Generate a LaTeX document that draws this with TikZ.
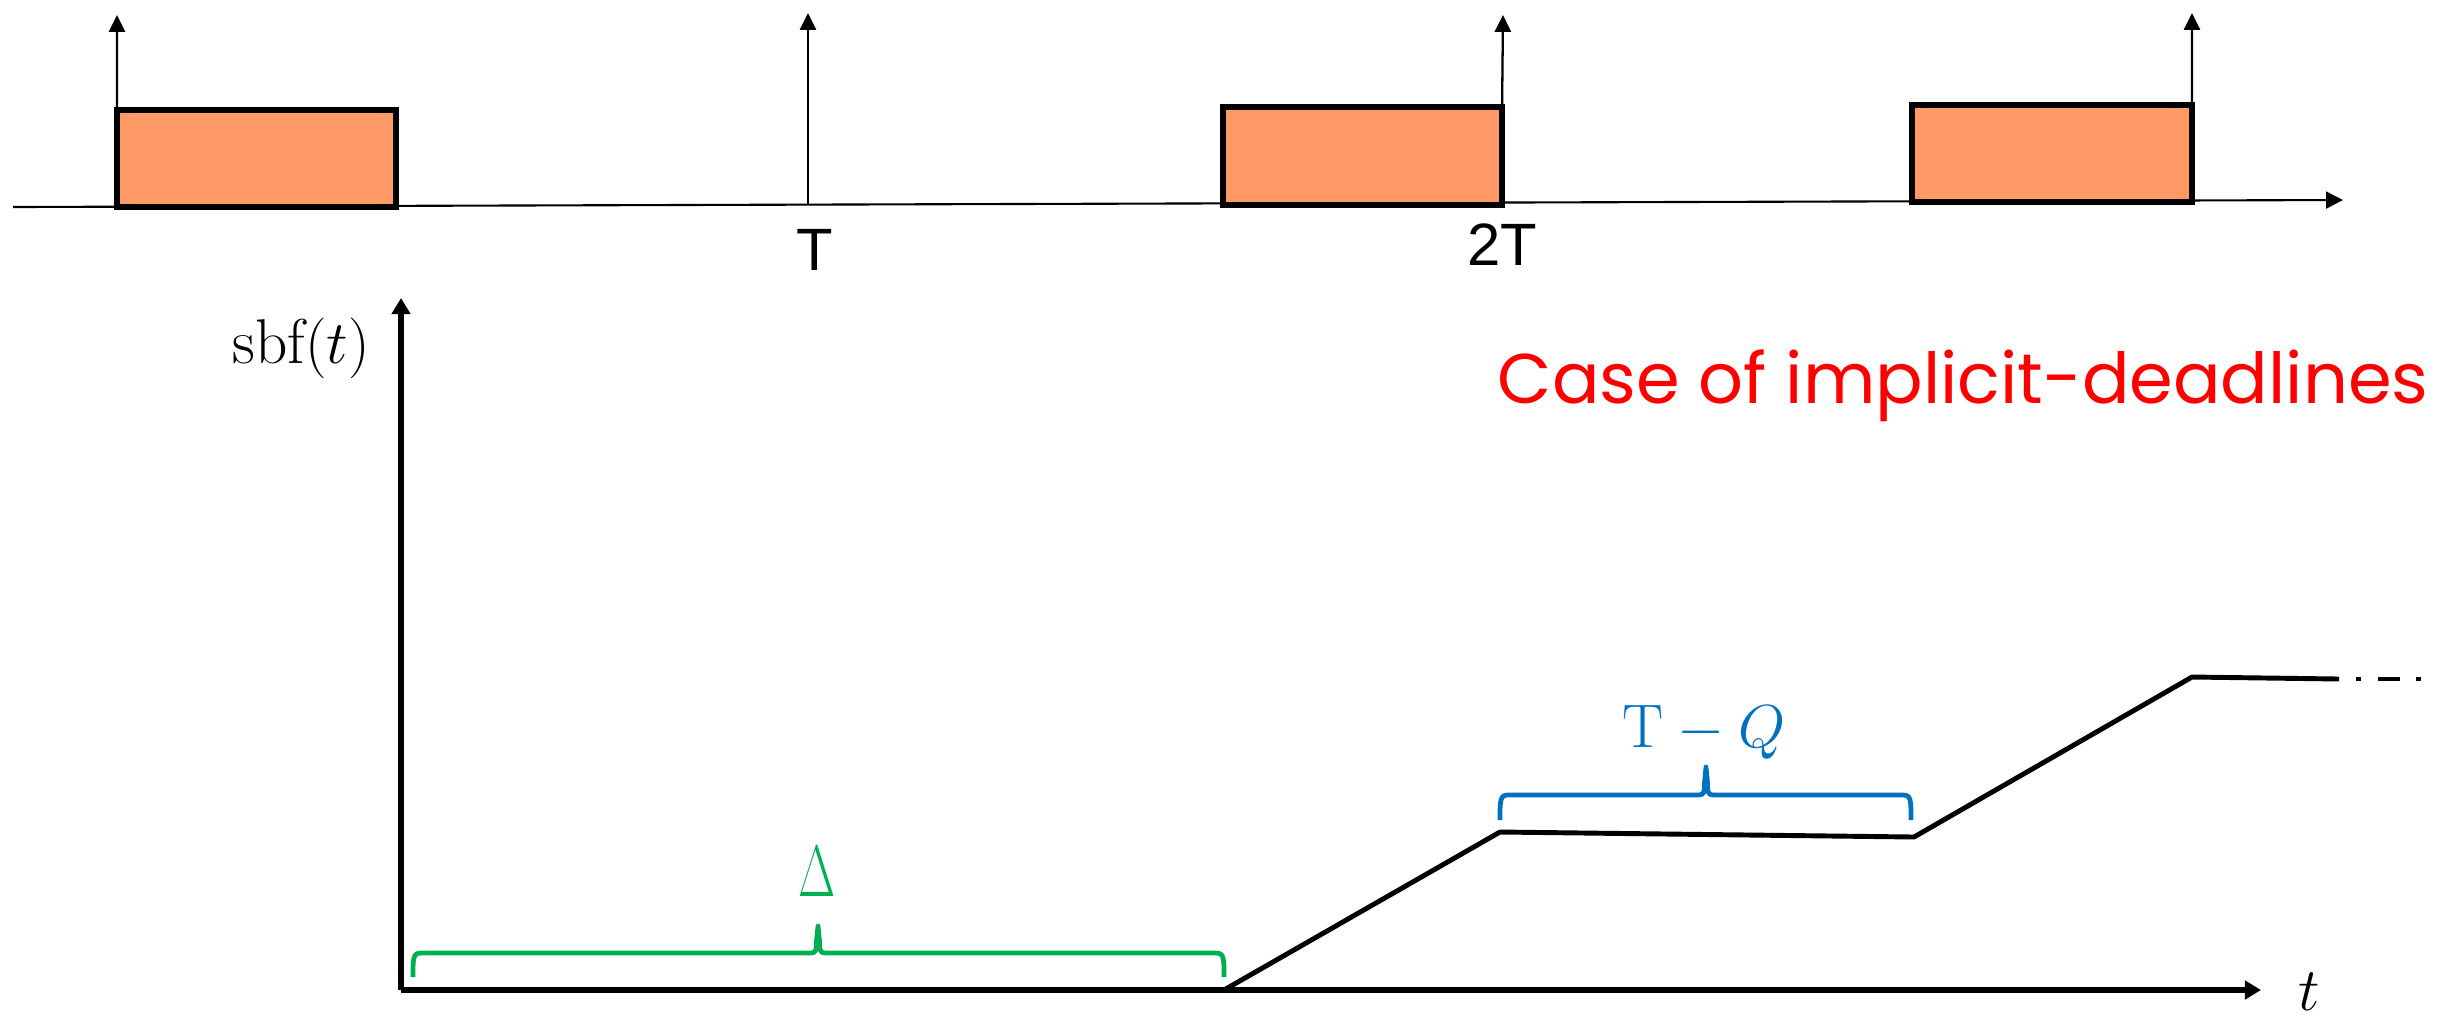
\documentclass[tikz,border=0pt]{standalone}
\usepackage{fontspec}
\usepackage{graphicx}
\usetikzlibrary{arrows.meta}
\newfontfamily\arialfont{Liberation Sans}
\newfontfamily\gothicfont{Poppins}
\definecolor{boxorange}{RGB}{255,153,102}
\definecolor{bracegreen}{RGB}{0,176,80}
\definecolor{braceblue}{RGB}{0,112,192}
\definecolor{casered}{RGB}{255,0,0}
\tikzset{
  timeaxis/.style={line width=0.6pt,-{Triangle[width=4.8pt,length=4.8pt]}},
  relarrow/.style={line width=0.65pt,-{Triangle[width=4.6pt,length=4.8pt]}},
  taskbox/.style={draw=black,line width=1.5pt,fill=boxorange,inner sep=0pt,outer sep=0pt},
  sbfaxis/.style={line width=1.5pt,-{Triangle[width=5.2pt,length=4.6pt]}},
  sbfcurve/.style={line width=1.4pt,line join=round},
  bracepath/.style={line width=1.35pt,line join=round},
  arlabel/.style={font=\arialfont\fontsize{17}{19}\selectfont,inner sep=0pt},
  mathlabel/.style={font=\fontsize{18}{20}\selectfont,inner sep=0pt}
}
\begin{document}
\begin{tikzpicture}[x=0.01cm,y=-0.01cm]
\useasboundingbox (0,0) rectangle (2457,1023);

% ---------- top timeline ----------
\coordinate (ax0) at (13,207);
\coordinate (axE) at (2343,200);
\draw[timeaxis] (ax0) -- (axE);

\node[taskbox,minimum width=2.79cm,minimum height=0.97cm] (box1) at (256.5,158.5) {};
\node[taskbox,minimum width=2.79cm,minimum height=0.98cm] (box2) at (1362.5,156) {};
\node[taskbox,minimum width=2.80cm,minimum height=0.97cm] (box3) at (2052,153.5) {};

\coordinate (tip1) at (117,15);
\coordinate (baseT) at (808,205);
\coordinate (tipT) at (808,13);
\coordinate (tip2) at (1503,15);
\coordinate (tip3) at (2192,13);
\draw[relarrow] (box1.north west) -- (tip1);
\draw[relarrow] (baseT) -- (tipT);
\draw[relarrow] (box2.north east) -- (tip2);
\draw[relarrow] (box3.north east) -- (tip3);

\node[arlabel] (labT) at (815,250) {T};
\node[arlabel] (lab2T) at (1502,245) {2T};

% ---------- sbf plot ----------
\coordinate (org) at (401,990);
\coordinate (ytip) at (401,298);
\coordinate (xtip) at (2261,990);
\draw[sbfaxis] (org) -- (ytip);
\draw[sbfaxis] (org) -- (xtip);

\node[mathlabel,anchor=base] (sbf) at (301,363) {$\mathrm{sbf}(t)$};
\node[mathlabel,anchor=base] (tlab) at (2309,1010) {$t$};

\coordinate (c0) at (1224,990);
\coordinate (c1) at (1500,832);
\coordinate (c2) at (1914,837);
\coordinate (c3) at (2192,677);
\coordinate (c4) at (2339,679);
\draw[sbfcurve] (c0) -- (c1) -- (c2) -- (c3) -- (c4);
\draw[sbfcurve] (2356,679) -- (2361,679);
\draw[sbfcurve] (2378,679) -- (2400,679);
\draw[sbfcurve] (2416,679) -- (2421,679);

\node[anchor=base west,inner sep=0pt,text=casered] (case) at (1497,403)
  {\resizebox{9.30cm}{!}{\gothicfont Case of implicit-deadlines}};

% ---------- green brace (Delta) ----------
\draw[bracepath,bracegreen]
  (413,977) .. controls (413,958) and (413,953) .. (421,953)
  -- (811,953) .. controls (816.5,953) and (816.5,949) .. (816.5,941)
  -- (818,926) -- (819.5,941)
  .. controls (819.5,949) and (819.5,953) .. (825,953)
  -- (1216,953) .. controls (1224,953) and (1224,958) .. (1224,977);
\node[anchor=base,inner sep=0pt,text=bracegreen,font=\fontsize{21}{23}\selectfont] (delta) at (817,896) {\scalebox{0.66}[1]{$\Delta$}};

% ---------- blue brace (T - Q) ----------
\draw[bracepath,braceblue]
  (1500,820) .. controls (1500,800) and (1500,795) .. (1508,795)
  -- (1699,795) .. controls (1704.5,795) and (1704.5,791) .. (1704.5,783)
  -- (1706,767) -- (1707.5,783)
  .. controls (1707.5,791) and (1707.5,795) .. (1713,795)
  -- (1903,795) .. controls (1911,795) and (1911,800) .. (1911,820);
\node[anchor=base,inner sep=0pt,text=braceblue,font=\fontsize{17.5}{19}\selectfont] (tq) at (1704,747) {$\mathrm{T}-Q$};
\end{tikzpicture}
\end{document}
